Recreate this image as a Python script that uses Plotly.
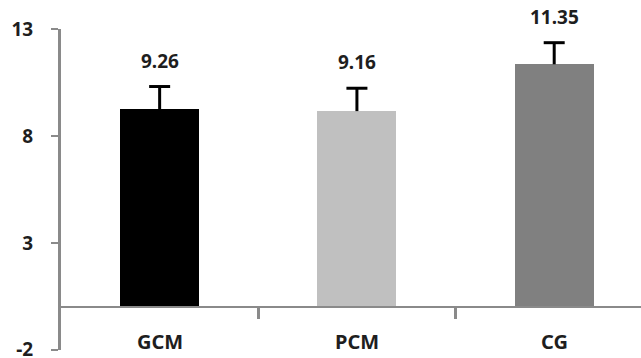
import plotly.graph_objects as go

categories = ["GCM", "PCM", "CG"]
means = [9.26, 9.16, 11.35]
errors = [1.05, 1.07, 1.01]
bar_colors = ["#000000", "#c0c0c0", "#808080"]
value_labels = ["9.26", "9.16", "11.35"]
y_ticks = [-2, 3, 8, 13]

xpos = list(range(len(categories)))
tops = [m + e for m, e in zip(means, errors)]
FONT = "Noto Sans"
TXT = "#1e1e1e"
AX = "#8a8a8a"

fig = go.Figure()
fig.add_trace(go.Bar(
    x=xpos, y=means, width=0.4,
    marker=dict(color=bar_colors, line=dict(width=0)),
    showlegend=False, hoverinfo="skip",
))

# upper-only error bars: stems and caps
stem_x, stem_y = [], []
for x, m, t in zip(xpos, means, tops):
    stem_x += [x, x, None]
    stem_y += [m, t, None]
fig.add_trace(go.Scatter(x=stem_x, y=stem_y, mode="lines",
                         line=dict(color="#000000", width=3),
                         showlegend=False, hoverinfo="skip"))
fig.add_trace(go.Scatter(x=xpos, y=tops, mode="markers",
                         marker=dict(symbol="line-ew", size=15,
                                     line=dict(color="#000000", width=3)),
                         showlegend=False, hoverinfo="skip"))

ymin, ymax = -2, 13
for i, (t, lab) in enumerate(zip(tops, value_labels)):
    fig.add_annotation(x=xpos[i], y=t, text=lab, showarrow=False,
                       yanchor="middle", yshift=26,
                       font=dict(family=FONT, size=19, color=TXT, weight="bold"))
for i, c in enumerate(categories):
    fig.add_annotation(x=xpos[i], y=0, text=c, showarrow=False,
                       yanchor="middle", yshift=-34,
                       font=dict(family=FONT, size=20, color=TXT, weight="bold"))

fig.update_layout(
    width=641, height=358,
    margin=dict(l=61, r=0, t=29, b=8, autoexpand=False),
    plot_bgcolor="white", paper_bgcolor="white",
    bargap=0,
    xaxis=dict(range=[-0.5, 2.44], anchor="free",
               position=(0 - ymin) / (ymax - ymin),
               showline=True, linecolor=AX, linewidth=2,
               showgrid=False, zeroline=False, automargin=False,
               tickmode="array", tickvals=[0.5, 1.5],
               ticks="outside", ticklen=11, tickwidth=3, tickcolor=AX,
               showticklabels=False),
    yaxis=dict(range=[ymin - 0.01, ymax], tickmode="array", tickvals=y_ticks,
               ticktext=[str(v) for v in y_ticks],
               showline=True, linecolor=AX, linewidth=3,
               showgrid=False, zeroline=False, automargin=False,
               ticks="outside", ticklen=7, tickwidth=2, tickcolor=AX,
               ticklabelstandoff=14, ticklabeloverflow="allow",
               tickfont=dict(family=FONT, size=19, color=TXT, weight="bold")),
)

fig.write_html("out.html")
